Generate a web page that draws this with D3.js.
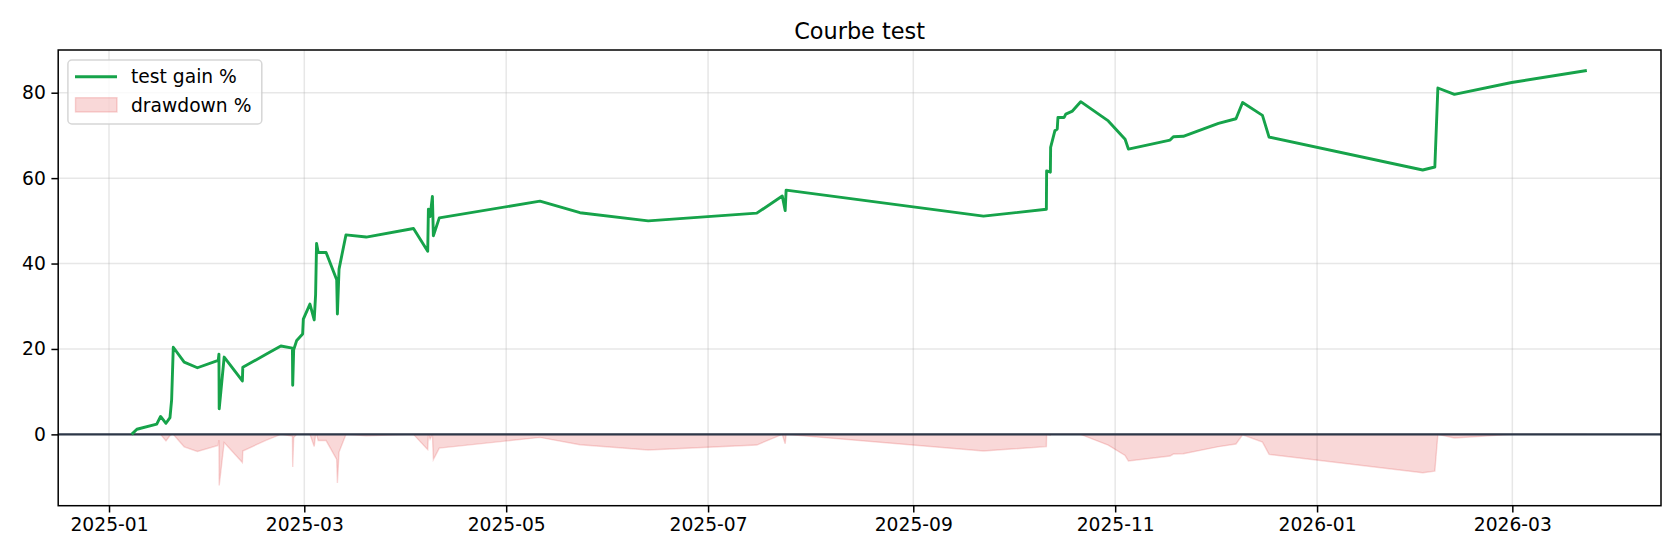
<!DOCTYPE html>
<html><head><meta charset="utf-8">
<script src="https://cdn.jsdelivr.net/npm/d3@7"></script>
<style>
html,body{margin:0;padding:0;background:#fff;}
svg{display:block;font-family:"DejaVu Sans",sans-serif;}
</style></head><body>
<svg id="chart" width="1680" height="560"></svg>
<script>
// ---- data ----
const chartTitle = "Courbe test";
const seriesNames = ["test gain %", "drawdown %"];
const dates = [
 "2025-01-07T20:00","2025-01-09T10:00","2025-01-15T10:00","2025-01-16T14:00","2025-01-18T05:00",
 "2025-01-19T10:00","2025-01-19T22:00","2025-01-20T10:00","2025-01-23T17:00","2025-01-27T17:00",
 "2025-02-03T00:00","2025-02-03T05:00","2025-02-03T07:00","2025-02-04T19:00","2025-02-10T07:00",
 "2025-02-10T10:00","2025-02-17T14:00","2025-02-21T22:00","2025-02-25T10:00","2025-02-25T12:00",
 "2025-02-25T19:00","2025-02-26T17:00","2025-02-28T12:00","2025-02-28T17:00","2025-03-02T17:00",
 "2025-03-04T00:00","2025-03-04T10:00","2025-03-04T17:00","2025-03-05T05:00","2025-03-07T14:00",
 "2025-03-10T19:00","2025-03-11T00:00","2025-03-11T12:00","2025-03-13T14:00","2025-03-19T17:00",
 "2025-04-03T00:00","2025-04-07T07:00","2025-04-07T12:00","2025-04-08T00:00","2025-04-08T17:00",
 "2025-04-09T00:00","2025-04-10T19:00","2025-05-11T05:00","2025-05-23T07:00","2025-06-12T22:00",
 "2025-07-15T17:00","2025-07-23T10:00","2025-07-24T07:00","2025-07-24T14:00","2025-09-22T05:00",
 "2025-10-11T05:00","2025-10-11T07:00","2025-10-12T10:00","2025-10-12T12:00","2025-10-13T19:00",
 "2025-10-14T12:00","2025-10-14T17:00","2025-10-16T14:00","2025-10-17T02:00","2025-10-19T02:00",
 "2025-10-21T14:00","2025-10-29T22:00","2025-11-04T00:00","2025-11-05T00:00","2025-11-17T14:00",
 "2025-11-18T14:00","2025-11-21T14:00","2025-12-02T05:00","2025-12-07T12:00","2025-12-09T12:00",
 "2025-12-15T12:00","2025-12-17T12:00","2026-02-01T22:00","2026-02-05T14:00","2026-02-06T12:00",
 "2026-02-11T12:00","2026-02-28T19:00","2026-03-23T12:00"
];
const gainPct = [
 0.0, 1.2, 2.4, 4.2, 2.6, 3.9, 8.1, 20.4, 16.9, 15.6,
 17.3, 18.8, 6.0, 18.1, 12.5, 15.7, 18.8, 20.7, 20.2, 11.5,
 19.8, 22.0, 23.5, 27.0, 30.5, 26.8, 32.7, 44.7, 42.6, 42.6,
 36.2, 28.2, 38.7, 46.7, 46.2, 48.2, 42.9, 52.7, 51.0, 55.7,
 46.5, 50.7, 54.6, 51.9, 50.0, 51.8, 55.8, 52.4, 57.2, 51.1,
 52.7, 61.7, 61.4, 67.2, 71.1, 71.5, 74.2, 74.2, 75.0, 75.7,
 77.9, 73.4, 69.1, 66.8, 68.9, 69.7, 69.8, 72.8, 73.9, 77.7,
 74.7, 69.6, 61.9, 62.6, 81.1, 79.6, 82.4, 85.2
];
const drawdownPct = [
 0, 0, 0, 0, -1.54, -0.29, 0, 0, -2.91, -3.99,
 -2.57, -1.33, -11.96, -1.91, -6.56, -3.90, -1.33, 0, -0.41, -7.62,
 -0.75, 0, 0, 0, 0, -2.84, 0, 0, -1.45, -1.45,
 -5.87, -11.40, -4.15, 0, -0.34, 0, -3.58, 0, -1.11, 0,
 -5.91, -3.21, -0.71, -2.44, -3.66, -2.50, 0, -2.18, 0, -3.88,
 -2.86, 0, -0.19, 0, 0, 0, 0, 0, 0, 0,
 0, -2.53, -4.95, -6.24, -5.06, -4.61, -4.55, -2.87, -2.25, -0.11,
 -1.80, -4.67, -8.99, -8.60, 0, -0.83, 0, 0
];
const xTickDates = ["2025-01-01T00:00","2025-03-01T00:00","2025-05-01T00:00","2025-07-01T00:00",
  "2025-09-01T00:00","2025-11-01T00:00","2026-01-01T00:00","2026-03-01T00:00"];
const yTickValues = [0, 20, 40, 60, 80];
const xDomain = ["2024-12-16T15:30", "2026-04-14T22:00"];
const yDomain = [-16.7, 90.0];

// ---- layout ----
const W = 1680, H = 560;
const M = {left: 58.2, right: 1661, top: 50, bottom: 505.7};
const GREEN = "#16a34a", RED = "#dc2626", ZERO = "#2d3748";
const FS = 18.7;

const parse = d3.utcParse("%Y-%m-%dT%H:%M");
const rows = dates.map((d, i) => ({date: parse(d), g: gainPct[i], dd: drawdownPct[i]}));

const x = d3.scaleUtc().domain(xDomain.map(parse)).range([M.left, M.right]);
const y = d3.scaleLinear().domain(yDomain).range([M.bottom, M.top]);

const svg = d3.select("#chart");
svg.append("rect").attr("width", W).attr("height", H).attr("fill", "#fff");

svg.append("defs").append("clipPath").attr("id", "clip")
  .append("rect").attr("x", M.left).attr("y", M.top)
  .attr("width", M.right - M.left).attr("height", M.bottom - M.top);

// grid
const gridG = svg.append("g");
gridG.selectAll("line.vx").data(xTickDates.map(parse)).join("line")
  .attr("x1", d => x(d)).attr("x2", d => x(d)).attr("y1", M.top).attr("y2", M.bottom)
  .attr("stroke", "#b0b0b0").attr("stroke-opacity", 0.3).attr("stroke-width", 1.5);
gridG.selectAll("line.hy").data(yTickValues).join("line")
  .attr("x1", M.left).attr("x2", M.right).attr("y1", d => y(d)).attr("y2", d => y(d))
  .attr("stroke", "#b0b0b0").attr("stroke-opacity", 0.3).attr("stroke-width", 1.5);

const plot = svg.append("g").attr("clip-path", "url(#clip)");

// drawdown fill
const area = d3.area().x(d => x(d.date)).y0(y(0)).y1(d => y(d.dd));
plot.append("path").datum(rows).attr("d", area)
  .attr("fill", RED).attr("fill-opacity", 0.18)
  .attr("stroke", RED).attr("stroke-opacity", 0.18).attr("stroke-width", 1.4);

// zero line
plot.append("line").attr("x1", M.left).attr("x2", M.right)
  .attr("y1", y(0)).attr("y2", y(0)).attr("stroke", ZERO).attr("stroke-width", 2.1);

// gain line
const line = d3.line().x(d => x(d.date)).y(d => y(d.g));
plot.append("path").datum(rows).attr("d", line)
  .attr("fill", "none").attr("stroke", GREEN).attr("stroke-width", 2.9)
  .attr("stroke-linejoin", "round").attr("stroke-linecap", "butt");

// axes
const xAxis = d3.axisBottom(x).tickValues(xTickDates.map(parse))
  .tickFormat(d3.utcFormat("%Y-%m")).tickSize(6.8).tickPadding(5.5);
const gx = svg.append("g").attr("transform", `translate(0,${M.bottom})`).call(xAxis);
const yAxis = d3.axisLeft(y).tickValues(yTickValues).tickFormat(d3.format("d"))
  .tickSize(6.8).tickPadding(5.5);
const gy = svg.append("g").attr("transform", `translate(${M.left},0)`).call(yAxis);
[gx, gy].forEach(g => {
  g.select(".domain").remove();
  g.selectAll(".tick line").attr("stroke", "#000").attr("stroke-width", 1.5);
  g.selectAll(".tick text").attr("fill", "#000").style("font-size", FS + "px")
    .style("font-family", "DejaVu Sans");
});

// spines
svg.append("rect").attr("x", M.left).attr("y", M.top)
  .attr("width", M.right - M.left).attr("height", M.bottom - M.top)
  .attr("fill", "none").attr("stroke", "#000").attr("stroke-width", 1.5);

// title
svg.append("text").attr("x", (M.left + M.right) / 2).attr("y", 38.5)
  .attr("text-anchor", "middle").style("font-size", "22.4px").attr("fill", "#000")
  .text(chartTitle);

// legend
const lg = svg.append("g");
lg.append("rect").attr("x", 67.9).attr("y", 60).attr("width", 193.9).attr("height", 64)
  .attr("rx", 4).attr("fill", "#fff").attr("fill-opacity", 0.8)
  .attr("stroke", "#cccccc").attr("stroke-opacity", 0.8).attr("stroke-width", 1.5);
lg.append("line").attr("x1", 75).attr("x2", 117).attr("y1", 76.7).attr("y2", 76.7)
  .attr("stroke", GREEN).attr("stroke-width", 2.9);
lg.append("rect").attr("x", 75.5).attr("y", 97.7).attr("width", 41.5).attr("height", 14.3)
  .attr("fill", RED).attr("fill-opacity", 0.18)
  .attr("stroke", RED).attr("stroke-opacity", 0.18).attr("stroke-width", 1.4);
lg.selectAll("text.lbl").data(seriesNames).join("text")
  .attr("x", 131).attr("y", (d, i) => i === 0 ? 83 : 111.7)
  .style("font-size", FS + "px").attr("fill", "#000").text(d => d);
</script>
</body></html>
